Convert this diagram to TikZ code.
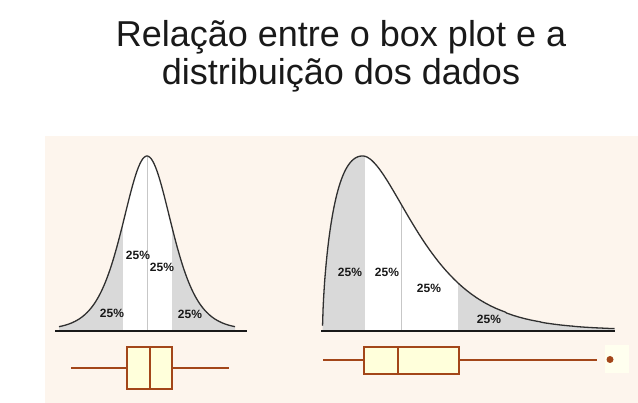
\documentclass[tikz,border=0pt]{standalone}
\usepackage{fontspec}
\setmainfont{Liberation Sans}
\definecolor{peach}{RGB}{253,245,237}
\definecolor{greyfill}{RGB}{217,217,217}
\definecolor{rust}{RGB}{163,70,25}
\definecolor{cream}{RGB}{255,255,219}
\definecolor{ink}{RGB}{25,25,25}
\begin{document}
\begin{tikzpicture}[x=1pt,y=-1pt,
  titletext/.style={anchor=base,inner sep=0,text=ink,font=\fontsize{36}{38}\selectfont},
  pct/.style={inner sep=0,text=ink,font=\bfseries\fontsize{12}{13}\selectfont},
  curveline/.style={draw=ink!90,line width=1.3pt},
  baseline/.style={draw=ink,line width=2pt},
  quartline/.style={draw=black!22,line width=0.7pt},
  bx/.style={draw=rust,fill=cream,line width=2pt,outer sep=0pt,inner sep=0pt},
  whisk/.style={draw=rust,line width=2pt}]
\useasboundingbox (0,0) rectangle (638,403);
\fill[peach] (45,136) rectangle (638,403);
% title
\node[titletext] (t1) at (341,47) {Relação entre o box plot e a};
\node[titletext] (t2) at (341,85) {distribuição dos dados};
% ---------- left (symmetric) ----------
\begin{scope}
\clip (59,331) -- plot[domain=-88:88,samples=150] ({147+\x},{330-174/(cosh(\x/33)*cosh(\x/33))}) -- (235,331) -- cycle;
\fill[greyfill] (56,140) rectangle (123,333);
\fill[white] (123,140) rectangle (172,333);
\fill[greyfill] (172,140) rectangle (238,333);
\end{scope}
\draw[quartline] (147,331) -- (147,157);
\draw[curveline] plot[domain=-88:88,samples=150] ({147+\x},{330-174/(cosh(\x/33)*cosh(\x/33))});
\draw[baseline] (55,331) -- (247,331);
\node[pct] (l1) at (138,255) {25\%};
\node[pct] (l2) at (162,267) {25\%};
\node[pct] (l3) at (112,313) {25\%};
\node[pct] (l4) at (190,314) {25\%};
% left box plot
\node[bx,minimum width=45pt,minimum height=42pt] (lb) at (149.5,368) {};
\coordinate (lwl) at (71,368);
\coordinate (lwr) at (229,368);
\coordinate (lmed) at (150,368);
\draw[whisk] (lwl) -- (lb.west);
\draw[whisk] (lb.east) -- (lwr);
\draw[whisk] (lb.north -| lmed) -- (lb.south -| lmed);
% ---------- right (skewed) ----------
\begin{scope}
\clip (322.5,331) -- plot[domain=0.05:40,samples=80] ({322.5+\x},{330-174*pow((\x/40)*exp(1-\x/40),0.65)}) -- plot[domain=40:292,samples=160] ({322.5+\x},{330-174*pow((\x/40)*exp(1-\x/40),1.12)}) -- (614.5,331) -- cycle;
\fill[greyfill] (320,140) rectangle (365,333);
\fill[white] (365,140) rectangle (458,333);
\fill[greyfill] (458,140) rectangle (618,333);
\end{scope}
\draw[quartline] (401,331) -- (401,204);
\draw[curveline] plot[domain=0.05:40,samples=80] ({322.5+\x},{330-174*pow((\x/40)*exp(1-\x/40),0.65)}) -- plot[domain=40:292,samples=160] ({322.5+\x},{330-174*pow((\x/40)*exp(1-\x/40),1.12)});
\draw[baseline] (321,331) -- (615,331);
\node[pct] (r1) at (350,272) {25\%};
\node[pct] (r2) at (387,272) {25\%};
\node[pct] (r3) at (429,288) {25\%};
\node[pct] (r4) at (489,319) {25\%};
% right box plot
\fill[cream!45] (605,345) rectangle (629,373);
\node[bx,minimum width=95pt,minimum height=27pt] (rb) at (411.5,360.5) {};
\coordinate (rwl) at (323,360.5);
\coordinate (rwr) at (597,360.5);
\coordinate (rmed) at (398,360.5);
\draw[whisk] (rwl) -- (rb.west);
\draw[whisk] (rb.east) -- (rwr);
\draw[whisk] (rb.north -| rmed) -- (rb.south -| rmed);
\node[circle,fill=rust,inner sep=0pt,minimum size=7pt] (out) at (610,359.5) {};
\end{tikzpicture}
\end{document}
